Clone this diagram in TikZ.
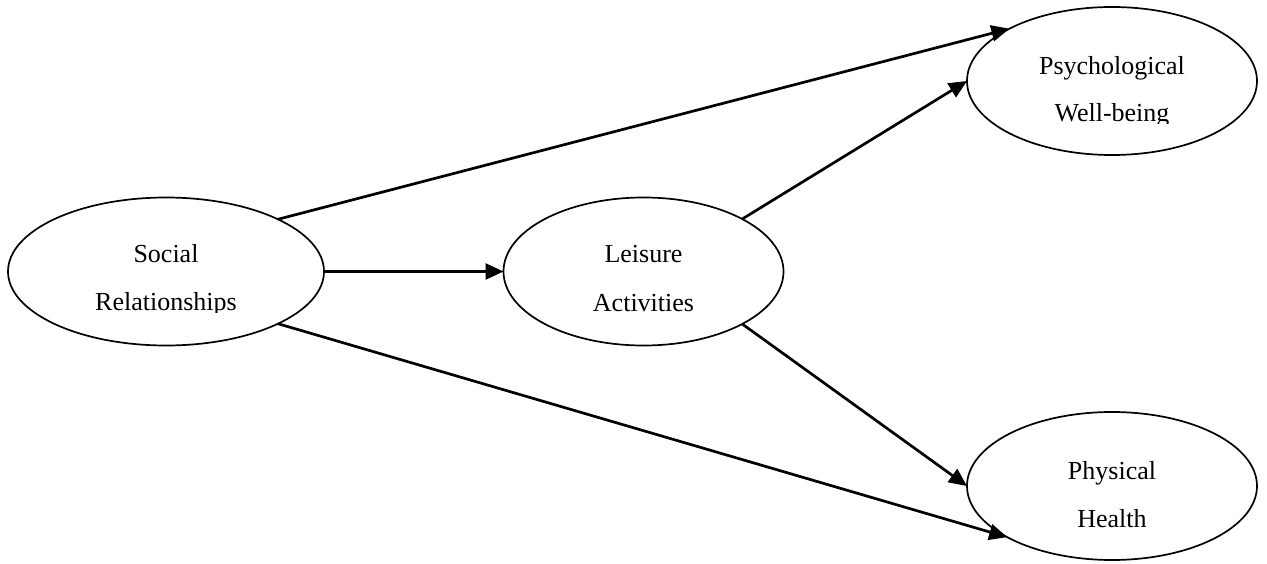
\documentclass[tikz,border=0pt]{standalone}
\usepackage{fontspec}
\setmainfont{Liberation Serif}
\usetikzlibrary{arrows.meta,shapes.geometric}
\begin{document}
\begin{tikzpicture}[x=1pt,y=-1pt,
  oval/.style={draw=black,line width=1.7pt,ellipse,inner sep=0pt,outer sep=0pt,
    minimum width=#1},
  oval/.default=290pt,
  lbl/.style={anchor=base,inner sep=0pt,font=\fontsize{26}{30}\selectfont},
  arr/.style={line width=2.7pt,-{Triangle[length=18pt,width=16pt]},shorten >=0pt}]
\useasboundingbox (0,0) rectangle (1267,564);
\node[oval=316pt,minimum height=148pt] (soc) at (166,271.5) {};
\node[oval=280pt,minimum height=148pt] (lei) at (643.5,271.5) {};
\node[oval=290pt,minimum height=148pt] (psy) at (1112,81) {};
\node[oval=290pt,minimum height=148pt] (phy) at (1112,486) {};
% labels
\node[lbl] (soc1) at (166,263) {Social};
\begin{scope}
\clip (60,280) rectangle (280,312);
\node[lbl] (soc2) at (166,310) {Relationships};
\end{scope}
\node[lbl] (lei1) at (643.5,263) {Leisure};
\node[lbl] (lei2) at (643.5,311) {Activities};
\node[lbl] (psy1) at (1112,75) {Psychological};
\begin{scope}
\clip (1000,90) rectangle (1230,124);
\node[lbl] (psy2) at (1112,122) {Well-being};
\end{scope}
\node[lbl] (phy1) at (1112,479) {Physical};
\node[lbl] (phy2) at (1112,527) {Health};
% arrows
\draw[arr] (soc.25) -- (psy.153.4);
\draw[arr] (soc.east) -- (lei.west);
\draw[arr] (soc.-25) -- (phy.206);
\draw[arr] (lei.28) -- (psy.west);
\draw[arr] (lei.-28) -- (phy.west);
\end{tikzpicture}
\end{document}
